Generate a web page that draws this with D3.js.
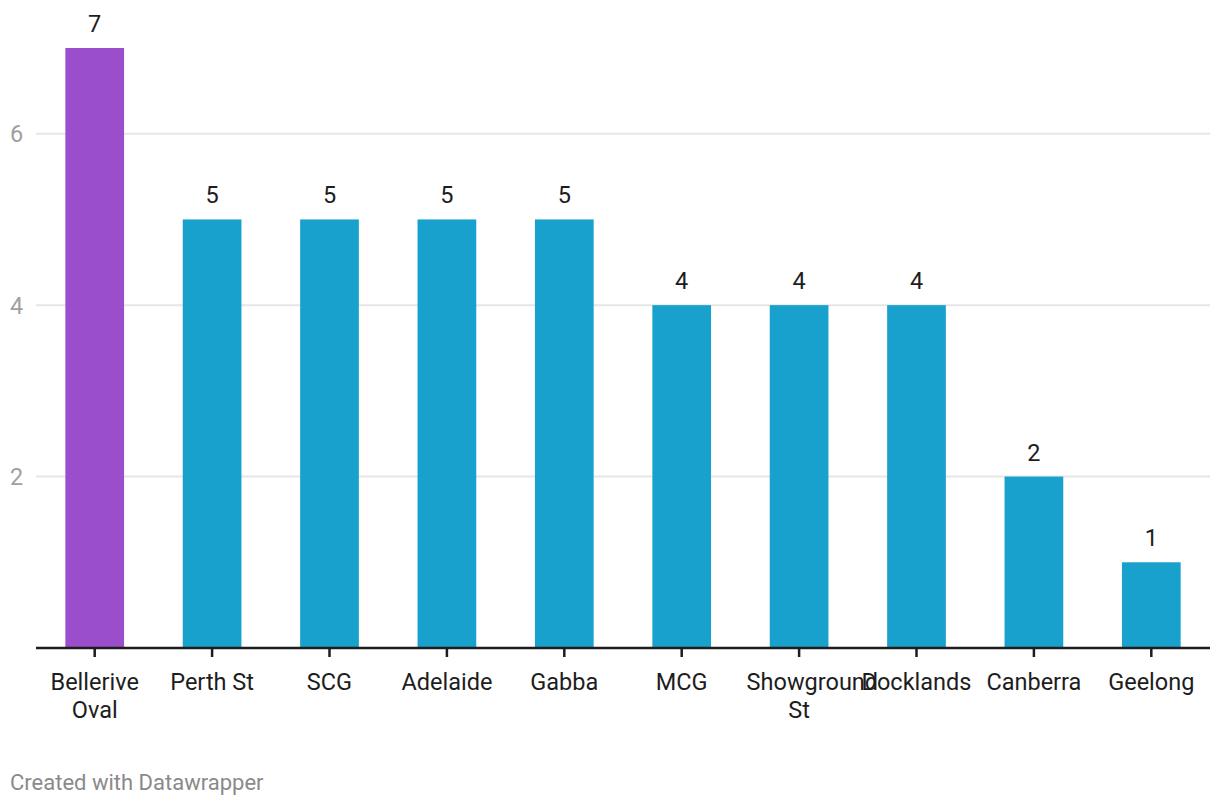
<!DOCTYPE html>
<html><head><meta charset="utf-8">
<script src="https://cdn.jsdelivr.net/npm/d3@7"></script>
<style>
html,body{margin:0;padding:0;background:#fff;}
svg{display:block;font-family:Roboto,"Noto Sans",sans-serif;}
</style></head>
<body>
<svg id="chart" width="1220" height="806"></svg>
<script>
const categories = ["Bellerive Oval","Perth St","SCG","Adelaide","Gabba","MCG","Showground St","Docklands","Canberra","Geelong"];
const values = [7,5,5,5,5,4,4,4,2,1];
const highlight = ["Bellerive Oval"];
const yTicks = [2,4,6];

(function(){
const svg = d3.select("#chart");
const mLeft = 36, mRight = 1210, mTop = 48, mBottom = 648;
const x = d3.scaleBand().domain(categories).range([mLeft,mRight]).paddingInner(0.5).paddingOuter(0.25);
const y = d3.scaleLinear().domain([0,7]).range([mBottom,mTop]);

// gridlines
svg.append("g").selectAll("line").data(yTicks).join("line")
  .attr("x1",mLeft).attr("x2",mRight)
  .attr("y1",d=>y(d)).attr("y2",d=>y(d))
  .attr("stroke","#e6e6e6").attr("stroke-width",2);
svg.append("g").selectAll("text").data(yTicks).join("text")
  .attr("x",10).attr("y",d=>y(d)+8.5)
  .attr("fill","#a0a0a0").attr("font-size","23.5px").text(d=>d);

// bars
svg.append("g").selectAll("rect").data(categories).join("rect")
  .attr("x",d=>x(d)).attr("width",x.bandwidth())
  .attr("y",(d,i)=>y(values[i])).attr("height",(d,i)=>y(0)-y(values[i]))
  .attr("fill",d=>highlight.includes(d)?"#9b4ecc":"#18a1cd");

// value labels
svg.append("g").selectAll("text").data(categories).join("text")
  .attr("x",d=>x(d)+x.bandwidth()/2).attr("y",(d,i)=>y(values[i])-16)
  .attr("text-anchor","middle").attr("fill","#1d1d1d").attr("font-size","23.5px")
  .text((d,i)=>values[i]);

// x axis
const xa = svg.append("g").attr("transform",`translate(0,${mBottom})`)
  .call(d3.axisBottom(x).tickSize(9).tickSizeOuter(0).tickFormat(""));
xa.select(".domain").attr("stroke","#1d1d1d").attr("stroke-width",2.5).attr("d",`M${mLeft},0H${mRight}`);
xa.selectAll(".tick line").attr("stroke","#1d1d1d").attr("stroke-width",2.5);

const wrap = {"Bellerive Oval":["Bellerive","Oval"],"Showground St":["Showground","St"]};
const boxW = 105;
const lblG = svg.append("g");
categories.forEach(d=>{
  const cx = x(d)+x.bandwidth()/2;
  (wrap[d]||[d]).forEach((l,i)=>{
    const t = lblG.append("text").attr("x",cx).attr("y",690+i*28)
      .attr("text-anchor","middle").attr("fill","#1d1d1d").attr("font-size","23.5px").text(l);
    if ((wrap[d]) && t.node().getComputedTextLength() > boxW) {
      t.attr("text-anchor","start").attr("x",cx-boxW/2);
    }
  });
});

svg.append("text").attr("x",10).attr("y",790).attr("fill","#8a8a8a").attr("font-size","22px").text("Created with Datawrapper");
})();
</script>
</body></html>
